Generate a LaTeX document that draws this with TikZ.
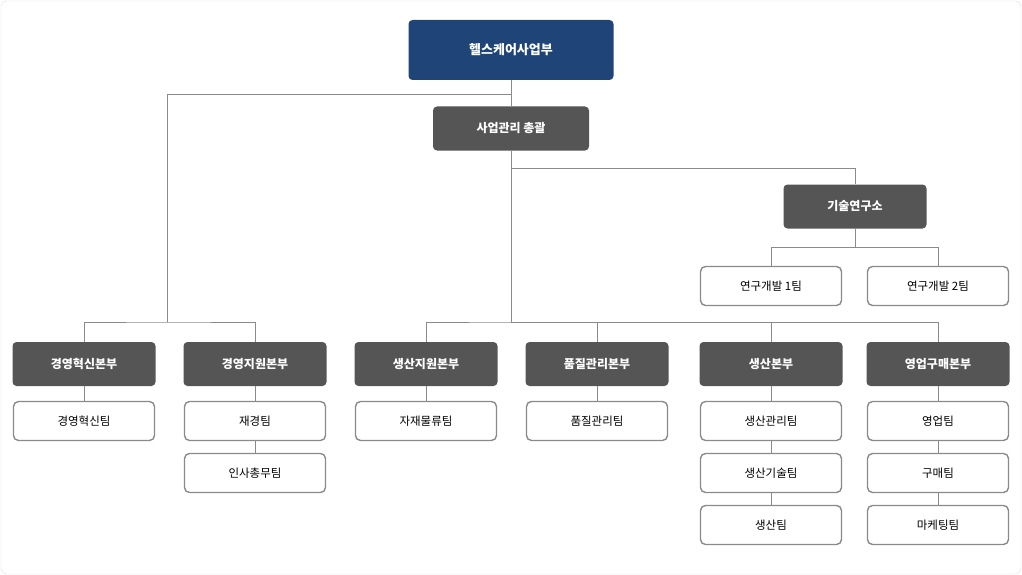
\documentclass[tikz,border=0pt]{standalone}
\usepackage{fontspec}
\setmainfont{Noto Sans CJK KR}
\definecolor{topblue}{HTML}{1F4477}
\definecolor{headgray}{HTML}{555555}
\definecolor{linegray}{HTML}{8A8A8A}
\begin{document}
\begin{tikzpicture}[x=1pt, y=-1pt,
    topbox/.style={draw=none, fill=topblue, rounded corners=4pt, text=white, font=\bfseries\fontsize{13}{15}\selectfont, minimum width=205pt, minimum height=60pt},
    headbox/.style={draw=none, fill=headgray, rounded corners=4pt, text=white, font=\bfseries\fontsize{12}{14}\selectfont, minimum width=143pt, minimum height=44pt},
    teambox/.style={draw=linegray, line width=1.4pt, fill=white, rounded corners=5pt, font=\fontsize{11.5}{13}\selectfont, minimum width=141pt, minimum height=39pt},
    link/.style={draw=linegray, line width=0.8pt}]
    \useasboundingbox (0,0) rectangle (1022,575);
    \draw[draw=gray!25, rounded corners=6pt] (1,1) rectangle (1021,574);

    % Nodes
    \node[topbox] (hq) at (511,50) {헬스케어사업부};
    \node[headbox, minimum width=156pt] (mgmt) at (511,128.5) {사업관리 총괄};
    \node[headbox] (lab) at (855,206.5) {기술연구소};
    \node[teambox] (rd1) at (771,286) {연구개발 1팀};
    \node[teambox] (rd2) at (938,286) {연구개발 2팀};

    \node[headbox] (inno) at (84,364) {경영혁신본부};
    \node[headbox] (supp) at (255,364) {경영지원본부};
    \node[headbox] (prsp) at (426,364) {생산지원본부};
    \node[headbox] (qual) at (597,364) {품질관리본부};
    \node[headbox] (prod) at (771,364) {생산본부};
    \node[headbox] (sale) at (938,364) {영업구매본부};

    \node[teambox] (innot) at (84,421) {경영혁신팀};
    \node[teambox] (fin) at (255,421) {재경팀};
    \node[teambox] (hr) at (255,473) {인사총무팀};
    \node[teambox] (logi) at (426,421) {자재물류팀};
    \node[teambox] (qualt) at (597,421) {품질관리팀};
    \node[teambox] (pman) at (771,421) {생산관리팀};
    \node[teambox] (ptech) at (771,473) {생산기술팀};
    \node[teambox] (pteam) at (771,525) {생산팀};
    \node[teambox] (salet) at (938,421) {영업팀};
    \node[teambox] (buy) at (938,473) {구매팀};
    \node[teambox] (mkt) at (938,525) {마케팅팀};

    % Edges
    \coordinate (split) at (511,94);
    \coordinate (leftbar) at (167,322);
    \coordinate (mainbar) at (511,322);
    \begin{scope}[on background layer/.try]
    \draw[link] (hq.south) -- (mgmt.north);
    \draw[link] (mgmt.south) -- (mainbar);
    \draw[link] (split) -| (leftbar);
    \draw[link] (inno.north) |- (leftbar) -| (supp.north);
    \draw[link] (prsp.north) |- (mainbar) -| (qual.north);
    \draw[link] (mainbar) -| (prod.north);
    \draw[link] (mainbar) -| (sale.north);
    \draw[link] (511,168) -| (lab.north);
    \draw[link] (lab.south) -- (855,247) -| (rd1.north);
    \draw[link] (855,247) -| (rd2.north);
    \end{scope}
    \foreach \a/\b in {inno/innot, supp/fin, fin/hr, prsp/logi, qual/qualt, prod/pman, pman/ptech, ptech/pteam, sale/salet, salet/buy, buy/mkt}
        \draw[link] (\a.south) -- (\b.north);
\end{tikzpicture}
\end{document}
